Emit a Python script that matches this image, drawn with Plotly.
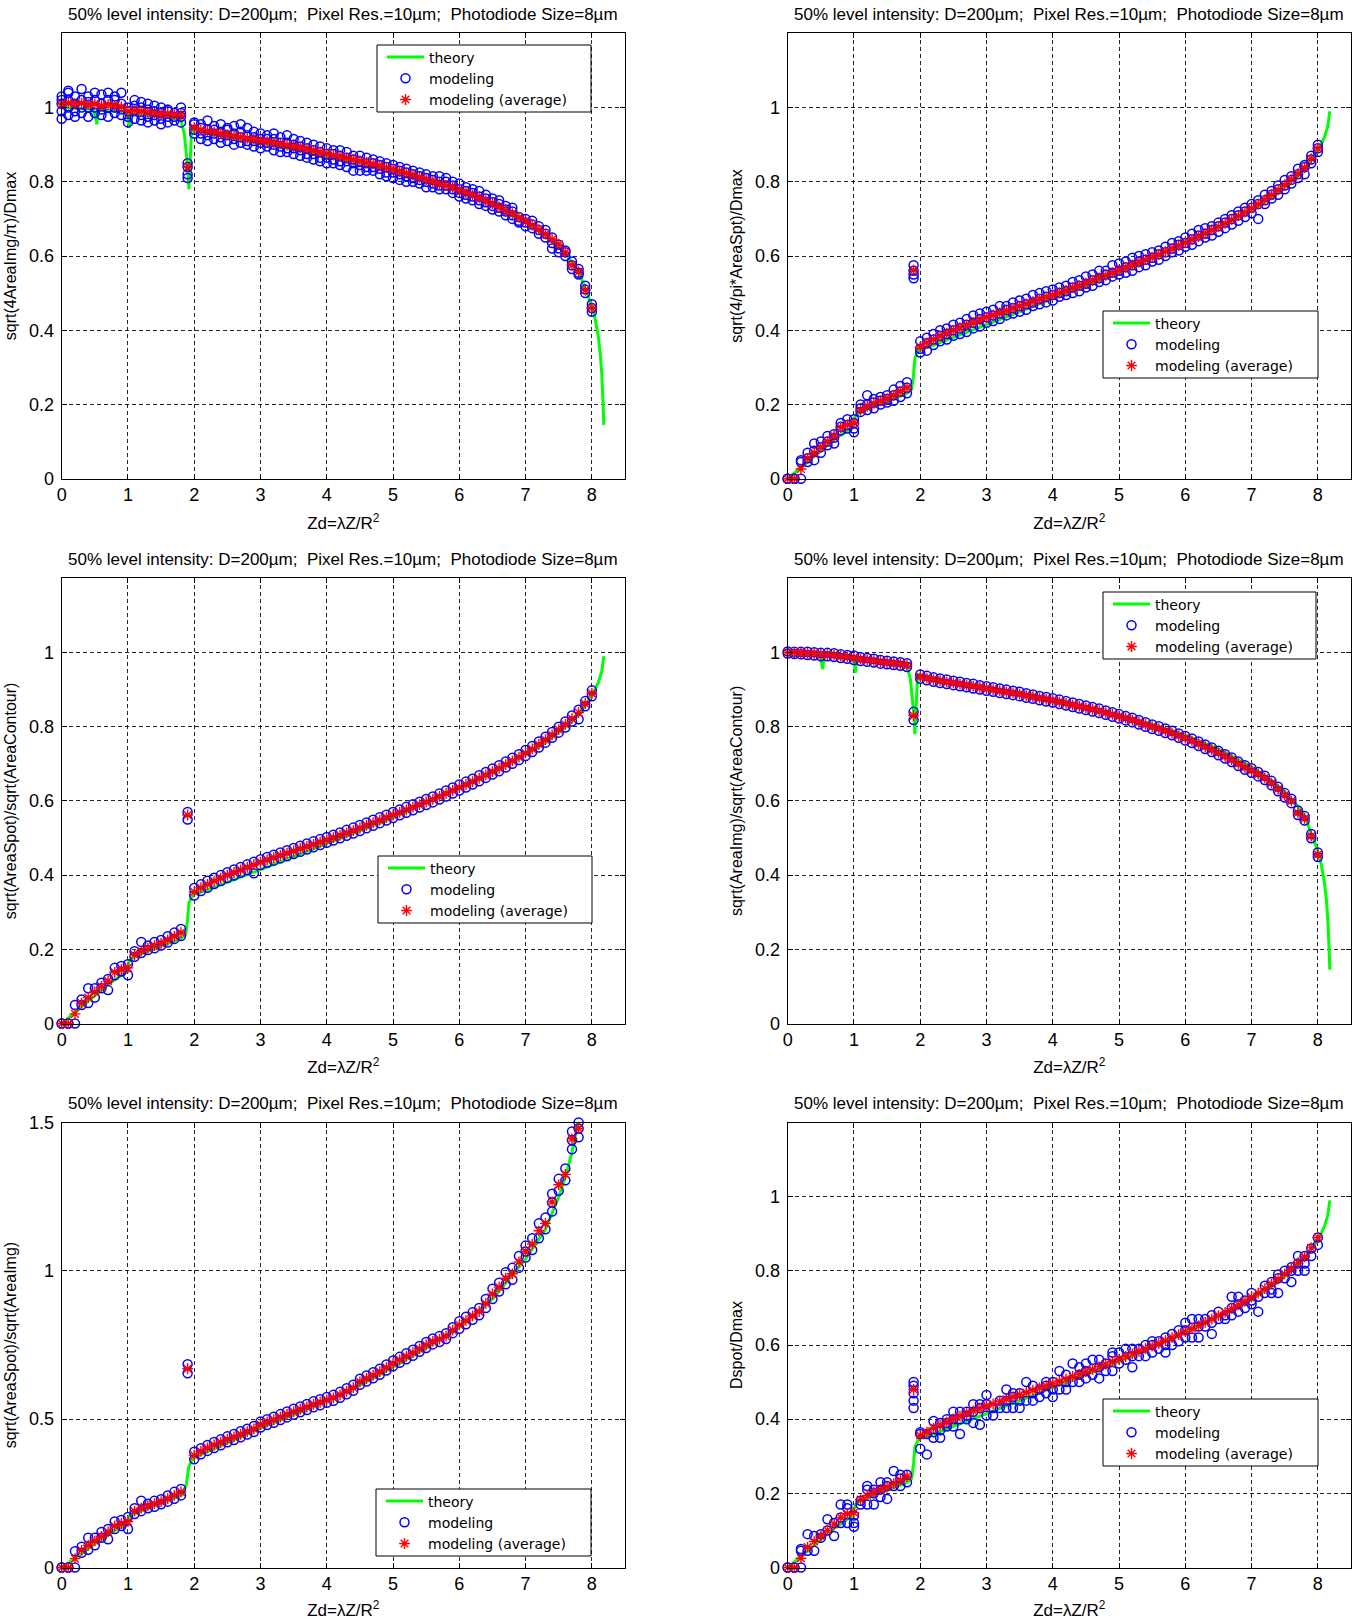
import plotly.graph_objects as go

# ---------------------------------------------------------------------------
# Data (Zd = lambda*Z/R^2 sample positions and measured / theoretical values)
# ---------------------------------------------------------------------------
Z = [0.0, 0.1, 0.2, 0.3, 0.4, 0.5, 0.6, 0.7, 0.8, 0.9,
     1.0, 1.1, 1.2, 1.3, 1.4, 1.5, 1.6, 1.7, 1.8, 1.9,
     2.0, 2.1, 2.2, 2.3, 2.4, 2.5, 2.6, 2.7, 2.8, 2.9,
     3.0, 3.1, 3.2, 3.3, 3.4, 3.5, 3.6, 3.7, 3.8, 3.9,
     4.0, 4.1, 4.2, 4.3, 4.4, 4.5, 4.6, 4.7, 4.8, 4.9,
     5.0, 5.1, 5.2, 5.3, 5.4, 5.5, 5.6, 5.7, 5.8, 5.9,
     6.0, 6.1, 6.2, 6.3, 6.4, 6.5, 6.6, 6.7, 6.8, 6.9,
     7.0, 7.1, 7.2, 7.3, 7.4, 7.5, 7.6, 7.7, 7.8, 7.9, 8.0]

# theory: image diameter (decreasing curve)
THEORY_IMG_Z = [0, 0.1, 0.2, 0.3, 0.4, 0.48, 0.51, 0.53, 0.55, 0.6, 0.7, 0.8, 0.9,
                0.98, 1.01, 1.02, 1.04, 1.1, 1.2, 1.3, 1.4, 1.5, 1.6, 1.7, 1.8,
                1.85, 1.9, 1.92, 1.94, 1.96, 2.0, 2.2, 2.5, 3.0, 3.5, 4.0, 4.5,
                5.0, 5.5, 6.0, 6.5, 7.0, 7.3, 7.5, 7.7, 7.8, 7.9, 8.0, 8.05,
                8.1, 8.13, 8.15, 8.17, 8.18]
THEORY_IMG = [1.0, 0.999, 0.998, 0.997, 0.996, 0.995, 0.975, 0.955, 0.993, 0.993,
              0.991, 0.99, 0.988, 0.986, 0.965, 0.945, 0.984, 0.983, 0.981, 0.979,
              0.977, 0.975, 0.973, 0.970, 0.965, 0.93, 0.84, 0.78, 0.86, 0.94,
              0.938, 0.932, 0.92, 0.905, 0.888, 0.87, 0.852, 0.83, 0.806, 0.777,
              0.74, 0.692, 0.655, 0.625, 0.585, 0.56, 0.515, 0.465, 0.43, 0.38,
              0.33, 0.28, 0.2, 0.145]

# theory: spot diameter (increasing curve)
THEORY_SPOT_Z = [0, 0.1, 0.2, 0.3, 0.5, 0.7, 0.9, 0.98, 1.02, 1.1, 1.3, 1.5, 1.7,
                 1.82, 1.87, 1.9, 1.92, 1.96, 2.0, 2.2, 2.5, 3.0, 3.5, 4.0, 4.5,
                 5.0, 5.5, 6.0, 6.5, 7.0, 7.3, 7.5, 7.7, 7.8, 7.9, 8.0, 8.05,
                 8.1, 8.15, 8.18]
THEORY_SPOT = [0, 0.015, 0.03, 0.045, 0.075, 0.105, 0.13, 0.14, 0.17, 0.18,
               0.195, 0.208, 0.222, 0.232, 0.24, 0.28, 0.325, 0.34, 0.348, 0.36,
               0.38, 0.415, 0.45, 0.485, 0.52, 0.555, 0.595, 0.635, 0.678, 0.725,
               0.757, 0.785, 0.815, 0.835, 0.857, 0.883, 0.9, 0.92, 0.95, 0.99]

# theory: spot / image ratio
THEORY_RATIO_Z = [0, 0.2, 0.5, 0.8, 0.98, 1.02, 1.3, 1.6, 1.82, 1.88, 1.92, 1.96,
                  2.0, 2.5, 3.0, 3.5, 4.0, 4.5, 5.0, 5.5, 6.0, 6.5, 7.0, 7.3,
                  7.5, 7.6, 7.7, 7.8]
THEORY_RATIO = [0, 0.03, 0.08, 0.125, 0.145, 0.175, 0.2, 0.225, 0.245, 0.28,
                0.34, 0.36, 0.37, 0.42, 0.47, 0.515, 0.56, 0.615, 0.675, 0.74,
                0.81, 0.905, 1.04, 1.14, 1.25, 1.315, 1.4, 1.51]

# averages of the modeling runs
AVG_IMG_EQ = [1.01, 1.012, 1.01, 1.012, 1.008, 1.01, 1.005, 1.008, 1.005, 1.002,
              0.99, 0.992, 0.99, 0.988, 0.985, 0.982, 0.984, 0.98, 0.98, 0.84,
              0.946, 0.94, 0.937, 0.934, 0.93, 0.927, 0.924, 0.92, 0.917, 0.914,
              0.911, 0.908, 0.905, 0.902, 0.899, 0.895, 0.892, 0.888, 0.884, 0.88,
              0.876, 0.872, 0.868, 0.864, 0.86, 0.856, 0.852, 0.848, 0.843, 0.838,
              0.833, 0.828, 0.823, 0.818, 0.812, 0.806, 0.8, 0.795, 0.79, 0.785,
              0.778, 0.771, 0.764, 0.757, 0.749, 0.741, 0.732, 0.723, 0.714, 0.704,
              0.694, 0.683, 0.671, 0.659, 0.645, 0.632, 0.61, 0.575, 0.558, 0.508, 0.46]

AVG_IMG_CT = [1.0, 1.0, 0.999, 0.998, 0.997, 0.995, 0.994, 0.993, 0.99, 0.988,
              0.986, 0.982, 0.98, 0.978, 0.975, 0.973, 0.971, 0.969, 0.966, 0.83,
              0.935, 0.931, 0.927, 0.924, 0.921, 0.918, 0.915, 0.912, 0.909, 0.906,
              0.903, 0.9, 0.897, 0.894, 0.891, 0.888, 0.884, 0.881, 0.877, 0.874,
              0.871, 0.867, 0.863, 0.859, 0.855, 0.851, 0.847, 0.843, 0.838, 0.833,
              0.828, 0.823, 0.818, 0.812, 0.806, 0.8, 0.795, 0.789, 0.783, 0.776,
              0.769, 0.762, 0.754, 0.746, 0.738, 0.729, 0.72, 0.711, 0.7, 0.69,
              0.682, 0.672, 0.662, 0.648, 0.632, 0.615, 0.6, 0.568, 0.553, 0.505, 0.455]

AVG_SPOT = [0, 0, 0.026, 0.055, 0.07, 0.085, 0.1, 0.115, 0.138, 0.145,
            0.15, 0.185, 0.195, 0.203, 0.21, 0.216, 0.225, 0.235, 0.245, 0.562,
            0.355, 0.366, 0.375, 0.384, 0.392, 0.4, 0.407, 0.414, 0.421, 0.428,
            0.435, 0.441, 0.447, 0.453, 0.459, 0.465, 0.471, 0.477, 0.483, 0.489,
            0.495, 0.501, 0.507, 0.514, 0.52, 0.527, 0.534, 0.541, 0.548, 0.555,
            0.562, 0.569, 0.576, 0.583, 0.59, 0.597, 0.604, 0.612, 0.62, 0.628,
            0.636, 0.644, 0.652, 0.661, 0.67, 0.679, 0.688, 0.698, 0.708, 0.718,
            0.729, 0.74, 0.752, 0.765, 0.778, 0.792, 0.806, 0.822, 0.838, 0.862, 0.89]

AVG_DSPOT = [0, 0, 0.025, 0.055, 0.07, 0.085, 0.1, 0.117, 0.135, 0.145,
             0.148, 0.183, 0.194, 0.203, 0.21, 0.217, 0.226, 0.236, 0.246, 0.48,
             0.356, 0.365, 0.376, 0.384, 0.392, 0.401, 0.408, 0.415, 0.422, 0.429,
             0.436, 0.441, 0.448, 0.454, 0.46, 0.466, 0.472, 0.478, 0.484, 0.49,
             0.496, 0.502, 0.508, 0.515, 0.521, 0.528, 0.534, 0.541, 0.548, 0.555,
             0.562, 0.569, 0.576, 0.583, 0.59, 0.597, 0.604, 0.612, 0.62, 0.628,
             0.636, 0.644, 0.652, 0.661, 0.67, 0.679, 0.688, 0.698, 0.708, 0.718,
             0.729, 0.74, 0.752, 0.765, 0.778, 0.792, 0.806, 0.822, 0.838, 0.862, 0.89]

AVG_RATIO = [0, 0, 0.03, 0.058, 0.075, 0.09, 0.105, 0.12, 0.14, 0.148,
             0.155, 0.19, 0.2, 0.208, 0.215, 0.222, 0.232, 0.243, 0.255, 0.67,
             0.378, 0.392, 0.403, 0.413, 0.422, 0.432, 0.44, 0.449, 0.458, 0.467,
             0.482, 0.49, 0.498, 0.507, 0.516, 0.525, 0.533, 0.541, 0.55, 0.557,
             0.565, 0.572, 0.582, 0.594, 0.606, 0.626, 0.637, 0.648, 0.66, 0.674,
             0.688, 0.7, 0.712, 0.724, 0.737, 0.75, 0.762, 0.77, 0.78, 0.8,
             0.818, 0.832, 0.848, 0.862, 0.89, 0.922, 0.945, 0.975, 0.99, 1.03,
             1.065, 1.09, 1.135, 1.16, 1.232, 1.29, 1.325, 1.445, 1.48]

# individual modeling runs, grouped per Zd position
MOD_IMG_EQ = [
    [0.97, 0.99, 1.01, 1.02, 1.03], [0.98, 1.0, 1.02, 1.04, 1.045], [0.975, 0.99, 1.01, 1.03],
    [0.985, 1.0, 1.02, 1.05], [0.975, 1.0, 1.015, 1.03], [0.985, 1.0, 1.02, 1.04],
    [0.98, 0.995, 1.01, 1.035], [0.975, 1.0, 1.02, 1.04], [0.985, 1.0, 1.02, 1.03],
    [0.98, 0.995, 1.01, 1.04],
    [0.96, 0.975, 0.99, 1.0], [0.97, 0.99, 1.005, 1.02], [0.965, 0.98, 1.0, 1.015],
    [0.96, 0.975, 0.995, 1.01], [0.965, 0.98, 0.99, 1.005], [0.955, 0.97, 0.985, 1.0],
    [0.96, 0.975, 0.99, 0.995], [0.965, 0.975, 0.985], [0.96, 0.975, 0.985, 1.0],
    [0.81, 0.82, 0.84, 0.85],
    [0.93, 0.94, 0.955, 0.96], [0.915, 0.93, 0.945, 0.955], [0.91, 0.925, 0.94, 0.965],
    [0.915, 0.93, 0.94, 0.95], [0.905, 0.92, 0.935, 0.955], [0.91, 0.925, 0.94, 0.945],
    [0.9, 0.915, 0.93, 0.95], [0.905, 0.92, 0.935, 0.955], [0.9, 0.91, 0.925, 0.945],
    [0.895, 0.91, 0.92, 0.935],
    [0.89, 0.905, 0.915, 0.93], [0.895, 0.905, 0.915, 0.925], [0.885, 0.9, 0.915, 0.93],
    [0.88, 0.895, 0.905, 0.92], [0.88, 0.89, 0.905, 0.925], [0.875, 0.89, 0.9, 0.915],
    [0.87, 0.885, 0.895, 0.91], [0.865, 0.875, 0.89, 0.905], [0.86, 0.875, 0.885, 0.9],
    [0.855, 0.865, 0.88, 0.895],
    [0.85, 0.865, 0.875, 0.89], [0.85, 0.86, 0.875, 0.885], [0.845, 0.855, 0.87, 0.885],
    [0.84, 0.855, 0.865, 0.88], [0.83, 0.85, 0.86, 0.87], [0.83, 0.845, 0.855, 0.87],
    [0.83, 0.84, 0.85, 0.865], [0.83, 0.84, 0.85, 0.86], [0.82, 0.835, 0.845, 0.855],
    [0.815, 0.825, 0.84, 0.85],
    [0.81, 0.825, 0.835, 0.845], [0.805, 0.82, 0.83, 0.84], [0.8, 0.815, 0.825, 0.835],
    [0.8, 0.81, 0.82, 0.83], [0.795, 0.805, 0.815, 0.825], [0.785, 0.8, 0.81, 0.82],
    [0.785, 0.795, 0.805, 0.815], [0.78, 0.79, 0.8, 0.815], [0.78, 0.79, 0.8, 0.81],
    [0.77, 0.78, 0.79, 0.8],
    [0.76, 0.77, 0.78, 0.795], [0.755, 0.765, 0.775, 0.785], [0.75, 0.76, 0.77, 0.78],
    [0.74, 0.75, 0.76, 0.775], [0.735, 0.745, 0.755, 0.765], [0.725, 0.735, 0.745, 0.755],
    [0.72, 0.73, 0.74, 0.75], [0.71, 0.72, 0.725, 0.735], [0.7, 0.71, 0.72, 0.73],
    [0.69, 0.695, 0.705],
    [0.68, 0.69, 0.7], [0.675, 0.685, 0.695], [0.66, 0.67, 0.68], [0.65, 0.66, 0.67],
    [0.62, 0.635, 0.65], [0.61, 0.62, 0.63], [0.6, 0.61, 0.615], [0.565, 0.575, 0.585],
    [0.55, 0.555, 0.565], [0.5, 0.51, 0.52], [0.45, 0.46, 0.47]]

MOD_SPOT_EQ = [
    [0, 0, 0], [0, 0, 0], [0, 0.045, 0.05], [0.045, 0.055, 0.07], [0.05, 0.075, 0.095],
    [0.07, 0.085, 0.1], [0.09, 0.1, 0.115], [0.095, 0.11, 0.12], [0.13, 0.14, 0.15],
    [0.135, 0.145, 0.16],
    [0.125, 0.135, 0.15, 0.16], [0.18, 0.19, 0.2], [0.185, 0.2, 0.225], [0.19, 0.205, 0.215],
    [0.2, 0.21, 0.22], [0.205, 0.215, 0.225], [0.21, 0.225, 0.24], [0.22, 0.235, 0.25],
    [0.23, 0.245, 0.26], [0.54, 0.55, 0.56, 0.575],
    [0.34, 0.35, 0.37], [0.345, 0.365, 0.38], [0.36, 0.375, 0.39], [0.37, 0.385, 0.4],
    [0.375, 0.39, 0.405], [0.385, 0.4, 0.415], [0.39, 0.405, 0.42], [0.395, 0.415, 0.43],
    [0.405, 0.42, 0.44], [0.41, 0.43, 0.445],
    [0.42, 0.435, 0.45], [0.425, 0.44, 0.455], [0.43, 0.445, 0.465], [0.44, 0.455, 0.465],
    [0.445, 0.46, 0.475], [0.45, 0.465, 0.48], [0.455, 0.47, 0.485], [0.465, 0.475, 0.495],
    [0.47, 0.485, 0.5], [0.475, 0.49, 0.505],
    [0.48, 0.495, 0.51], [0.49, 0.5, 0.515], [0.495, 0.505, 0.52], [0.5, 0.515, 0.53],
    [0.505, 0.52, 0.535], [0.515, 0.525, 0.545], [0.52, 0.535, 0.55], [0.53, 0.54, 0.56],
    [0.535, 0.55, 0.56], [0.545, 0.555, 0.575],
    [0.55, 0.56, 0.58], [0.555, 0.57, 0.585], [0.56, 0.575, 0.595], [0.57, 0.585, 0.6],
    [0.575, 0.59, 0.605], [0.585, 0.595, 0.61], [0.59, 0.605, 0.615], [0.6, 0.61, 0.625],
    [0.61, 0.62, 0.635], [0.615, 0.63, 0.64],
    [0.625, 0.635, 0.65], [0.63, 0.645, 0.66], [0.64, 0.655, 0.67], [0.65, 0.66, 0.675],
    [0.655, 0.67, 0.68], [0.665, 0.68, 0.69], [0.675, 0.69, 0.7], [0.685, 0.7, 0.71],
    [0.695, 0.71, 0.72], [0.705, 0.72, 0.73],
    [0.715, 0.73, 0.74], [0.7, 0.74, 0.75], [0.74, 0.75, 0.765], [0.755, 0.765, 0.775],
    [0.765, 0.78, 0.79], [0.78, 0.79, 0.805], [0.795, 0.805, 0.815], [0.81, 0.82, 0.835],
    [0.82, 0.84, 0.845], [0.85, 0.86, 0.87], [0.88, 0.89, 0.9]]

MOD_SPOT_CT = [
    [0, 0], [0, 0], [0, 0.05], [0.05, 0.065], [0.055, 0.095], [0.07, 0.095], [0.095, 0.11],
    [0.09, 0.12], [0.13, 0.15], [0.14, 0.155],
    [0.13, 0.16], [0.18, 0.195], [0.19, 0.22], [0.198, 0.21], [0.203, 0.22], [0.21, 0.225],
    [0.218, 0.235], [0.228, 0.245], [0.236, 0.255], [0.55, 0.57],
    [0.345, 0.365], [0.357, 0.375], [0.366, 0.385], [0.376, 0.393], [0.384, 0.4],
    [0.392, 0.408], [0.399, 0.415], [0.406, 0.422], [0.413, 0.429], [0.405, 0.436],
    [0.427, 0.443], [0.433, 0.449], [0.439, 0.455], [0.445, 0.461], [0.451, 0.467],
    [0.457, 0.473], [0.463, 0.479], [0.469, 0.485], [0.475, 0.491], [0.481, 0.497],
    [0.487, 0.503], [0.493, 0.509], [0.499, 0.515], [0.506, 0.522], [0.512, 0.528],
    [0.519, 0.535], [0.526, 0.542], [0.533, 0.549], [0.54, 0.556], [0.547, 0.563],
    [0.554, 0.57], [0.561, 0.577], [0.568, 0.584], [0.575, 0.591], [0.582, 0.598],
    [0.589, 0.605], [0.596, 0.612], [0.604, 0.62], [0.612, 0.628], [0.62, 0.636],
    [0.628, 0.644], [0.636, 0.652], [0.644, 0.66], [0.653, 0.669], [0.662, 0.678],
    [0.671, 0.687], [0.68, 0.696], [0.69, 0.706], [0.7, 0.716], [0.71, 0.726],
    [0.721, 0.737], [0.732, 0.748], [0.744, 0.76], [0.757, 0.773], [0.77, 0.786],
    [0.784, 0.8], [0.798, 0.814], [0.814, 0.83], [0.82, 0.846], [0.855, 0.869], [0.882, 0.898]]

MOD_IMG_CT = [
    [0.997, 1.003], [0.996, 1.002], [0.995, 1.002], [0.993, 1.002], [0.992, 1.001],
    [0.99, 0.999], [0.99, 0.999], [0.988, 0.998], [0.985, 0.995], [0.983, 0.993],
    [0.98, 0.992], [0.977, 0.987], [0.975, 0.985], [0.973, 0.983], [0.97, 0.98],
    [0.968, 0.978], [0.966, 0.976], [0.964, 0.974], [0.961, 0.971], [0.818, 0.84],
    [0.929, 0.941], [0.925, 0.937], [0.921, 0.933], [0.918, 0.93], [0.915, 0.927],
    [0.912, 0.924], [0.909, 0.921], [0.906, 0.918], [0.903, 0.916], [0.9, 0.912],
    [0.897, 0.909], [0.894, 0.906], [0.891, 0.903], [0.888, 0.9], [0.885, 0.897],
    [0.882, 0.894], [0.878, 0.89], [0.875, 0.887], [0.871, 0.883], [0.868, 0.88],
    [0.865, 0.877], [0.861, 0.873], [0.857, 0.869], [0.853, 0.865], [0.849, 0.861],
    [0.845, 0.857], [0.841, 0.853], [0.837, 0.849], [0.832, 0.844], [0.827, 0.839],
    [0.822, 0.834], [0.817, 0.829], [0.812, 0.824], [0.806, 0.818], [0.8, 0.812],
    [0.794, 0.806], [0.789, 0.801], [0.783, 0.795], [0.777, 0.789], [0.77, 0.782],
    [0.763, 0.775], [0.756, 0.768], [0.748, 0.76], [0.74, 0.752], [0.732, 0.744],
    [0.723, 0.735], [0.714, 0.726], [0.705, 0.717], [0.694, 0.706], [0.684, 0.696],
    [0.676, 0.688], [0.666, 0.678], [0.656, 0.668], [0.642, 0.654], [0.626, 0.638],
    [0.609, 0.621], [0.594, 0.606], [0.562, 0.574], [0.547, 0.559], [0.499, 0.511],
    [0.449, 0.461]]

MOD_RATIO = [
    [0, 0], [0, 0], [0, 0.055], [0.05, 0.07], [0.06, 0.1], [0.075, 0.1], [0.1, 0.12],
    [0.095, 0.13], [0.13, 0.155], [0.14, 0.16],
    [0.13, 0.17], [0.18, 0.2], [0.19, 0.225], [0.2, 0.215], [0.205, 0.225], [0.213, 0.23],
    [0.222, 0.243], [0.232, 0.255], [0.243, 0.265], [0.655, 0.685],
    [0.365, 0.39], [0.382, 0.402], [0.393, 0.413], [0.403, 0.423], [0.412, 0.432],
    [0.422, 0.442], [0.43, 0.45], [0.439, 0.459], [0.448, 0.468], [0.457, 0.477],
    [0.472, 0.492], [0.48, 0.5], [0.488, 0.508], [0.497, 0.517], [0.506, 0.526],
    [0.515, 0.535], [0.523, 0.543], [0.531, 0.551], [0.54, 0.56], [0.547, 0.567],
    [0.555, 0.575], [0.562, 0.582], [0.572, 0.592], [0.584, 0.604], [0.596, 0.616],
    [0.616, 0.636], [0.627, 0.647], [0.638, 0.658], [0.65, 0.67], [0.664, 0.684],
    [0.678, 0.698], [0.69, 0.71], [0.702, 0.722], [0.714, 0.734], [0.727, 0.747],
    [0.74, 0.76], [0.752, 0.772], [0.76, 0.78], [0.77, 0.79], [0.79, 0.81],
    [0.805, 0.83], [0.82, 0.845], [0.835, 0.86], [0.85, 0.875], [0.875, 0.905],
    [0.905, 0.94], [0.93, 0.96], [0.955, 0.995], [0.97, 1.01], [1.01, 1.05],
    [1.045, 1.065, 1.085], [1.07, 1.11], [1.11, 1.16], [1.14, 1.18], [1.2, 1.23, 1.26],
    [1.27, 1.31], [1.305, 1.345], [1.41, 1.44, 1.47], [1.45, 1.48, 1.5]]

MOD_DSPOT = [
    [0, 0], [0, 0], [0, 0.045, 0.05], [0.045, 0.09], [0.045, 0.085], [0.08, 0.09],
    [0.1, 0.13], [0.085, 0.12], [0.12, 0.135, 0.17], [0.12, 0.16, 0.17],
    [0.11, 0.12, 0.14], [0.17, 0.18], [0.17, 0.21, 0.22], [0.17, 0.2, 0.21],
    [0.19, 0.21, 0.23], [0.185, 0.22, 0.23], [0.22, 0.26], [0.22, 0.24, 0.25],
    [0.23, 0.25], [0.43, 0.45, 0.47, 0.49, 0.5],
    [0.32, 0.36, 0.365], [0.305, 0.36], [0.35, 0.365, 0.395], [0.35, 0.37, 0.39],
    [0.38, 0.39, 0.4], [0.38, 0.4, 0.42], [0.36, 0.4, 0.42], [0.4, 0.41, 0.42],
    [0.39, 0.42, 0.44], [0.385, 0.43, 0.44],
    [0.41, 0.44, 0.465], [0.41, 0.43], [0.43, 0.45], [0.43, 0.45, 0.48], [0.43, 0.46, 0.47],
    [0.43, 0.45, 0.47], [0.45, 0.5], [0.45, 0.47, 0.49], [0.46, 0.48], [0.47, 0.49, 0.5],
    [0.46, 0.48, 0.5], [0.48, 0.53], [0.48, 0.5, 0.52], [0.5, 0.55], [0.5, 0.52, 0.54],
    [0.51, 0.53, 0.55], [0.52, 0.56], [0.51, 0.54, 0.56], [0.53, 0.55], [0.53, 0.57, 0.58],
    [0.55, 0.58], [0.56, 0.59], [0.54, 0.57, 0.59], [0.57, 0.59], [0.57, 0.6],
    [0.58, 0.6, 0.61], [0.59, 0.61], [0.58, 0.6, 0.62], [0.6, 0.63], [0.61, 0.64],
    [0.62, 0.64, 0.66], [0.62, 0.67], [0.62, 0.65, 0.67], [0.65, 0.67], [0.63, 0.66, 0.68],
    [0.67, 0.69], [0.67, 0.68], [0.68, 0.7, 0.73], [0.69, 0.71, 0.73], [0.7, 0.72],
    [0.71, 0.72, 0.74], [0.69, 0.73], [0.74, 0.76], [0.74, 0.75, 0.77], [0.74, 0.78, 0.79],
    [0.78, 0.8], [0.77, 0.8, 0.81], [0.8, 0.82, 0.84], [0.8, 0.82, 0.84], [0.84, 0.86],
    [0.87, 0.89]]

TITLE = "50% level intensity: D=200\u00b5m;  Pixel Res.=10\u00b5m;  Photodiode Size=8\u00b5m"
X_LABEL = "Zd=\u03bbZ/R<sup>2</sup>"
X_TICKS = [0, 1, 2, 3, 4, 5, 6, 7, 8]
Y_TICKS_UNIT = [0, 0.2, 0.4, 0.6, 0.8, 1]
Y_TICKS_RATIO = [0, 0.5, 1, 1.5]

# ---------------------------------------------------------------------------
# Layout geometry (pixels on a 1359 x 1620 page)
# ---------------------------------------------------------------------------
W, H = 1359, 1620
COLS = [(61.7, 625.0), (787.7, 1351.0)]
ROWS = [(33.3, 478.7), (578.3, 1023.5), (1122.5, 1567.5)]
FONT = "Liberation Sans, Arial, Helvetica, sans-serif"
LEGEND_FONT = "DejaVu Sans, Liberation Sans, sans-serif"

panels = [
    dict(row=0, col=0, ylabel="sqrt(4AreaImg/\u03c0)/Dmax",
         tz=THEORY_IMG_Z, ty=THEORY_IMG, mod=MOD_IMG_EQ, avg=AVG_IMG_EQ,
         yr=[0, 1.2], yt=Y_TICKS_UNIT, box=(377, 45, 591, 111)),
    dict(row=0, col=1, ylabel="sqrt(4/pi*AreaSpt)/Dmax",
         tz=THEORY_SPOT_Z, ty=THEORY_SPOT, mod=MOD_SPOT_EQ, avg=AVG_SPOT,
         yr=[0, 1.2], yt=Y_TICKS_UNIT, box=(1103, 311, 1318, 377)),
    dict(row=1, col=0, ylabel="sqrt(AreaSpot)/sqrt(AreaContour)",
         tz=THEORY_SPOT_Z, ty=THEORY_SPOT, mod=MOD_SPOT_CT, avg=AVG_SPOT,
         yr=[0, 1.2], yt=Y_TICKS_UNIT, box=(378, 856, 592, 922)),
    dict(row=1, col=1, ylabel="sqrt(AreaImg)/sqrt(AreaContour)",
         tz=THEORY_IMG_Z, ty=THEORY_IMG, mod=MOD_IMG_CT, avg=AVG_IMG_CT,
         yr=[0, 1.2], yt=Y_TICKS_UNIT, box=(1103, 592, 1316, 658)),
    dict(row=2, col=0, ylabel="sqrt(AreaSpot)/sqrt(AreaImg)",
         tz=THEORY_RATIO_Z, ty=THEORY_RATIO, mod=MOD_RATIO, avg=AVG_RATIO,
         yr=[0, 1.5], yt=Y_TICKS_RATIO, box=(376, 1489, 591, 1555)),
    dict(row=2, col=1, ylabel="Dspot/Dmax",
         tz=THEORY_SPOT_Z, ty=THEORY_SPOT, mod=MOD_DSPOT, avg=AVG_DSPOT,
         yr=[0, 1.2], yt=Y_TICKS_UNIT, box=(1103, 1399, 1318, 1465)),
]


def px_x(v):
    return v / W


def px_y(v):
    return 1 - v / H


fig = go.Figure()
shapes = []
annotations = []
layout = {}

for i, p in enumerate(panels):
    n = i + 1
    sfx = "" if n == 1 else str(n)
    xa, ya = "x" + sfx, "y" + sfx
    leg = "legend" + sfx
    left, right = COLS[p["col"]]
    top, bottom = ROWS[p["row"]]

    mx, my = [], []
    for z, group in zip(Z, p["mod"]):
        for v in group:
            mx.append(z)
            my.append(v)

    fig.add_trace(go.Scatter(
        x=p["tz"], y=p["ty"], mode="lines", name="theory",
        line=dict(color="#00ff00", width=3),
        xaxis=xa, yaxis=ya, legend=leg))
    fig.add_trace(go.Scatter(
        x=mx, y=my, mode="markers", name="modeling", cliponaxis=False,
        marker=dict(symbol="circle-open", size=9, color="#0000ff",
                    line=dict(width=1.5, color="#0000ff")),
        xaxis=xa, yaxis=ya, legend=leg))
    fig.add_trace(go.Scatter(
        x=Z[:len(p["avg"])], y=p["avg"], mode="markers", name="modeling (average)",
        cliponaxis=False,
        marker=dict(symbol="asterisk-open", size=9, color="#ff0000",
                    line=dict(width=1.4, color="#ff0000")),
        xaxis=xa, yaxis=ya, legend=leg))

    axis_common = dict(
        automargin=False,
        showline=True, linecolor="black", linewidth=1, mirror="ticks",
        ticks="inside", ticklen=5, tickcolor="black", tickwidth=1,
        showgrid=True, gridcolor="rgba(0,0,0,0.85)", gridwidth=1,
        griddash="4px,3px", zeroline=False,
        tickfont=dict(family=FONT, size=18, color="black"),
    )
    layout["xaxis" + sfx] = dict(
        axis_common, domain=[px_x(left), px_x(right)], anchor=ya,
        range=[0, 8.5], tickvals=X_TICKS,
        title=dict(text=X_LABEL, font=dict(family=FONT, size=17, color="black"),
                   standoff=12))
    layout["yaxis" + sfx] = dict(
        axis_common, domain=[px_y(bottom), px_y(top)], anchor=xa,
        range=p["yr"], tickvals=p["yt"], ticklabelstandoff=3,
        title=dict(text=p["ylabel"], font=dict(family=FONT, size=16, color="black"),
                   standoff=8))

    annotations.append(dict(
        text=TITLE, xref="paper", yref="paper",
        x=px_x((left + right) / 2), y=px_y(top - 19),
        xanchor="center", yanchor="middle", showarrow=False,
        font=dict(family=FONT, size=17, color="black")))

    bl, bt, br, bb = p["box"]
    shapes.append(dict(
        type="rect", xref="paper", yref="paper", layer="above",
        x0=px_x(bl), x1=px_x(br), y0=px_y(bb + 1), y1=px_y(bt),
        fillcolor="white", line=dict(color="black", width=1)))
    layout[leg] = dict(
        x=px_x(bl + 5), y=px_y(bt - 3.5), xanchor="left", yanchor="top",
        bgcolor="rgba(0,0,0,0)", borderwidth=0,
        font=dict(family=LEGEND_FONT, size=14, color="black"),
        itemwidth=37)

fig.update_layout(
    width=W, height=H,
    margin=dict(l=0, r=0, t=0, b=0, autoexpand=False),
    paper_bgcolor="white", plot_bgcolor="white",
    shapes=shapes, annotations=annotations,
    **layout)

fig.write_html("out.html")
